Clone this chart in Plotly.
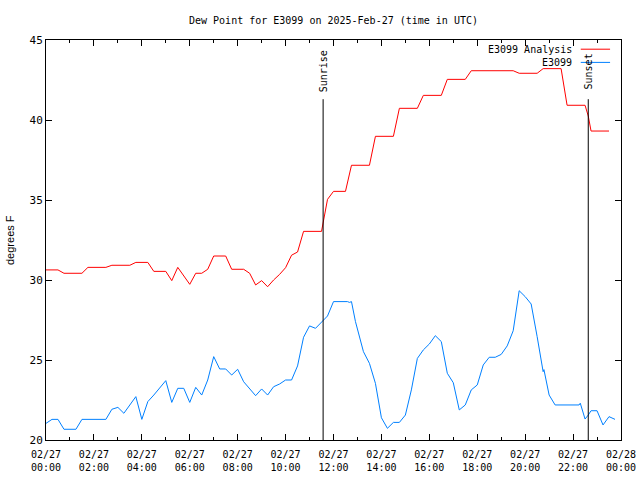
import plotly.graph_objects as go

DAY = "2025-02-27 "

analysis_times = ["00:00","00:30","00:45","01:30","01:45","02:30","02:45","03:30","03:45","04:15",
                  "04:30","05:00","05:15","05:30","06:00","06:15","06:30","06:45","07:00","07:30",
                  "07:45","08:15","08:30","08:45","09:00","09:15","09:30","09:45","10:00","10:15",
                  "10:30","10:45","11:30","11:34","11:45","12:00","12:30","12:45","13:30","13:45",
                  "14:30","14:45","15:30","15:45","16:30","16:45","17:30","17:45","19:30","19:45",
                  "20:30","20:45","21:30","21:45","22:30","22:38","22:45","23:30"]
analysis_vals = [30.63,30.63,30.42,30.42,30.79,30.79,30.92,30.92,31.10,31.10,
                 30.54,30.54,29.96,30.79,29.73,30.42,30.42,30.67,31.50,31.50,
                 30.67,30.67,30.42,29.69,29.96,29.58,30.00,30.35,30.77,31.55,
                 31.75,33.04,33.04,33.54,35.04,35.54,35.54,37.17,37.17,38.98,
                 38.98,40.73,40.73,41.54,41.54,42.54,42.54,43.08,43.08,42.92,
                 42.92,43.21,43.21,40.92,40.92,40.25,39.31,39.31]

obs_times = ["00:00","00:15","00:30","00:45","01:15","01:30","02:30","02:45","03:00","03:15",
             "03:45","04:00","04:15","04:30","05:00","05:15","05:30","05:45","06:00","06:15",
             "06:30","06:45","07:00","07:15","07:30","07:45","08:00","08:15","08:45","09:00",
             "09:15","09:30","09:45","10:00","10:15","10:30","10:45","11:00","11:15","11:30",
             "11:45","12:00","12:35","12:40","12:45","12:55","13:15","13:30","13:45","14:00",
             "14:15","14:30","14:45","15:00","15:15","15:30","15:45","16:00","16:15","16:30",
             "16:45","17:00","17:15","17:30","17:45","18:00","18:15","18:30","18:45","19:00",
             "19:15","19:30","19:45","20:00","20:15","20:30","20:45","20:47","21:00","21:15",
             "22:15","22:18","22:30","22:38","22:45","23:00","23:15","23:30","23:45"]
obs_vals = [21.04,21.29,21.29,20.67,20.67,21.29,21.29,21.92,22.04,21.67,
            22.71,21.29,22.40,22.81,23.71,22.35,23.23,23.23,22.35,23.29,
            22.81,23.75,25.21,24.44,24.44,24.06,24.42,23.64,22.77,23.19,
            22.81,23.33,23.50,23.75,23.75,24.63,26.42,27.13,26.98,27.35,
            27.75,28.65,28.65,28.60,28.65,27.40,25.52,24.79,23.54,21.39,
            20.73,21.10,21.10,21.56,23.13,25.10,25.63,26.00,26.52,26.15,
            24.17,23.58,21.88,22.19,23.13,23.44,24.69,25.17,25.17,25.35,
            25.88,26.83,29.33,28.96,28.50,26.46,24.27,24.40,22.81,22.19,
            22.19,22.30,21.31,21.56,21.83,21.83,20.94,21.46,21.29]

sun_labels = ["Sunrise", "Sunset"]
sun_times = ["11:34", "22:38"]
sun_line_top = 41.3
sun_label_y = 43.05

series_names = ["E3099 Analysis", "E3099"]
series_colors = ["#ff0000", "#0080ff"]

MONO = "DejaVu Sans Mono"

fig = go.Figure()
fig.add_trace(go.Scatter(x=[DAY + t for t in analysis_times], y=analysis_vals, mode="lines",
                         line=dict(color=series_colors[0], width=1), name=series_names[0],
                         showlegend=False))
fig.add_trace(go.Scatter(x=[DAY + t for t in obs_times], y=obs_vals, mode="lines",
                         line=dict(color=series_colors[1], width=1), name=series_names[1],
                         showlegend=False))

shapes = []
annotations = []
for lab, t in zip(sun_labels, sun_times):
    shapes.append(dict(type="line", xref="x", yref="y", x0=DAY + t, x1=DAY + t,
                       y0=20, y1=sun_line_top, line=dict(color="black", width=1)))
    annotations.append(dict(x=DAY + t, y=sun_label_y, xref="x", yref="y", text=lab,
                            textangle=-90, showarrow=False, xanchor="center", yanchor="middle",
                            font=dict(family=MONO, size=10, color="black")))

# custom legend (text on left, line sample on right)
leg_y = [0.977, 0.944]
for name, col, ly in zip(series_names, series_colors, leg_y):
    annotations.append(dict(x=0.919, y=ly, xref="paper", yref="paper", text=name,
                            showarrow=False, xanchor="right", yanchor="middle",
                            font=dict(family=MONO, size=10, color="black")))
    shapes.append(dict(type="line", xref="paper", yref="paper", x0=0.930, x1=0.981,
                       y0=ly, y1=ly, line=dict(color=col, width=1)))

# y-axis title
annotations.append(dict(x=-36 / 575, y=0.5, xref="paper", yref="paper", text="degrees F",
                        textangle=-90, showarrow=False, xanchor="center", yanchor="middle",
                        font=dict(family="Liberation Sans", size=11, color="black")))

fig.update_layout(
    width=640, height=480,
    margin=dict(l=46, r=19, t=40, b=40, autoexpand=False),
    paper_bgcolor="white", plot_bgcolor="white",
    title=dict(text="Dew Point for E3099 on 2025-Feb-27 (time in UTC)",
               x=0.5, xref="paper", y=1 - 20 / 480, yanchor="middle",
               font=dict(family=MONO, size=10, color="black")),
    shapes=shapes, annotations=annotations,
    showlegend=False,
    font=dict(family=MONO, size=10, color="black"),
)
fig.update_xaxes(type="date", range=["2025-02-27 00:00", "2025-02-28 00:00"],
                 dtick=7200000, tick0="2025-02-27 00:00", tickformat="%m/%d<br>%H:%M",
                 ticks="inside", ticklen=6, tickcolor="black", showline=True,
                 linecolor="black", linewidth=1, mirror="ticks", showgrid=False,
                 zeroline=False, automargin=False, ticklabelstandoff=5,
                 minor=dict(dtick=3600000, ticks="inside", ticklen=3, tickcolor="black",
                            showgrid=False),
                 tickfont=dict(family=MONO, size=10, color="black"))
fig.update_yaxes(range=[20, 45], dtick=5, ticks="inside", ticklen=6, tickcolor="black",
                 showline=True, linecolor="black", linewidth=1, mirror="ticks",
                 showgrid=False, zeroline=False, automargin=False,
                 tickfont=dict(family=MONO, size=11, color="black"))

fig.write_html("out.html")
